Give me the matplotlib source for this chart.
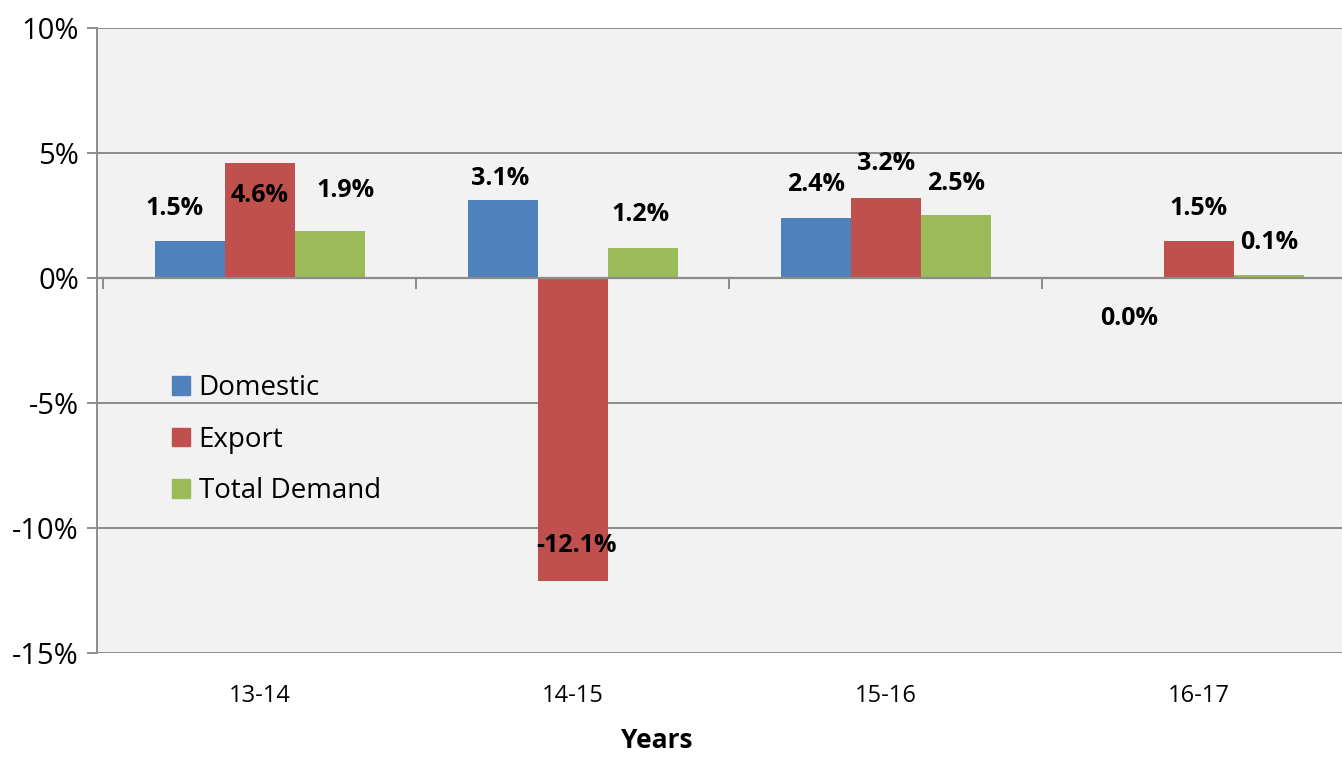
import matplotlib
matplotlib.use("Agg")
import matplotlib.pyplot as plt
from matplotlib import font_manager
from matplotlib.patches import Patch
import numpy as np

# pick a narrow, Calibri-like face if it is there
names = {f.name for f in font_manager.fontManager.ttflist}
FONT = next((n for n in ["Liberation Sans Narrow", "Open Sans", "Liberation Sans"]
             if n in names), "DejaVu Sans")
plt.rcParams["font.family"] = [FONT, "DejaVu Sans"]

BLUE, RED, GREEN = "#4F81BD", "#C0504D", "#9BBB59"
GRID = "#8C8C8C"

years = ["13-14", "14-15", "15-16", "16-17"]
domestic = [1.5, 3.14, 2.4, 0.0]
export = [4.62, -12.1, 3.2, 1.5]
total = [1.9, 1.2, 2.54, 0.14]
series_names = ["Domestic", "Export", "Total Demand"]

# label offsets (points) from the bar end, as placed in the original
label_dx = [[-11, -2, 0, 0], [0, 3, 0, 0], [11, -2, 0, 0]]
label_dy = [[23, 15, 24, -29], [-24, 25, 25, 23], [29, 24, 22, 23]]

fig = plt.figure(figsize=(13.42, 7.57), dpi=100)
ax = fig.add_axes([97 / 1342, 1 - 653 / 757, 1252 / 1342, 625 / 757])
ax.set_facecolor("#F2F2F2")

x = np.arange(len(years))
w = 0.224
for i, (vals, c) in enumerate(zip([domestic, export, total], [BLUE, RED, GREEN])):
    xs = x + (i - 1) * w
    ax.bar(xs, vals, width=w, color=c, zorder=3, label=series_names[i])
    for j, v in enumerate(vals):
        ax.annotate(f"{v:.1f}%", (xs[j], v), textcoords="offset points",
                    xytext=(label_dx[i][j], label_dy[i][j]), ha="center",
                    va="center", fontsize=18, fontweight="bold", zorder=5)

ax.set_xlim(-0.52, 3.48)
ax.set_ylim(-15, 10)
ax.set_yticks(np.arange(-15, 11, 5))
ax.set_yticklabels([f"{t}%" for t in range(-15, 11, 5)], fontsize=21)
ax.yaxis.grid(True, color=GRID, lw=1.4, zorder=1)
ax.tick_params(axis="y", length=7, width=1.4, color=GRID, pad=6)
ax.set_xticks(x)
ax.set_xticklabels(years, fontsize=17)
ax.tick_params(axis="x", length=0, pad=22)
ax.set_xlabel("Years", fontsize=19, fontweight="bold")
ax.xaxis.set_label_coords(0.447, -0.118)

for s in ["top", "right", "bottom"]:
    ax.spines[s].set_visible(False)
ax.spines["left"].set_color(GRID)
ax.spines["left"].set_linewidth(1.4)

# category axis crosses at zero, ticks between groups
ax.axhline(0, color=GRID, lw=1.6, zorder=4)
ax.vlines(np.arange(-0.5, 3.0, 1.0), -0.45, 0, color=GRID, lw=1.4, zorder=4)

handles = [Patch(color=c) for c in [BLUE, RED, GREEN]]
ax.legend(handles, series_names, loc="upper left", bbox_to_anchor=(0.06, 0.446),
          frameon=False, fontsize=20, handlelength=0.65, handleheight=0.65,
          handletextpad=0.3, labelspacing=0.85, borderpad=0, borderaxespad=0)

fig.savefig("out.png", dpi=100, facecolor="white")
